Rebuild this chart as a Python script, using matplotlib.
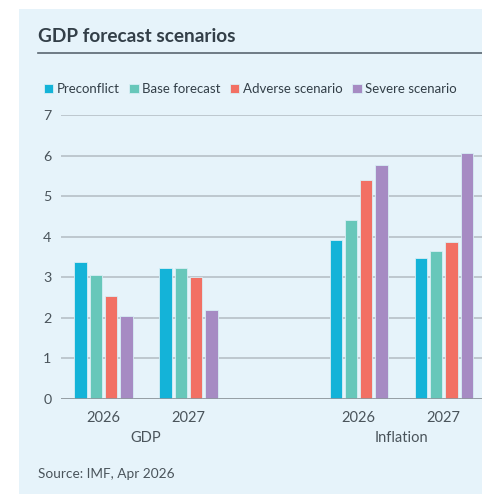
import numpy as np
import matplotlib.pyplot as plt
from matplotlib.patches import Rectangle

plt.rcParams['font.family'] = ['Lato', 'DejaVu Sans']

# Data
series = ['Preconflict', 'Base forecast', 'Adverse scenario', 'Severe scenario']
years = ['2026', '2027', '2026', '2027']
groups = ['GDP', 'Inflation']
preconflict = [3.37, 3.23, 3.91, 3.47]
base_forecast = [3.05, 3.23, 4.41, 3.66]
adverse = [2.54, 3.01, 5.40, 3.87]
severe = [2.04, 2.18, 5.78, 6.07]
colors = ['#14b3d8', '#67c7ba', '#f27064', '#a68bc3']

values = [preconflict, base_forecast, adverse, severe]
# GDP in slots 0,1 and inflation in slots 3,4
pos = np.array([0, 1, 3, 4])

W, H = 482, 494
fig = plt.figure(figsize=(W / 100, H / 100), dpi=100, facecolor='white')

# light blue panel behind everything
fig.patches.append(Rectangle((19 / W, 0), 1 - 19 / W, 1 - 9 / H,
                             transform=fig.transFigure, facecolor='#e6f3fa',
                             edgecolor='none', zorder=-5))

txt = '#333f48'
fig.text(38 / W, 1 - 37 / H, 'GDP forecast scenarios', fontsize=13.7,
         fontweight='bold', color=txt, va='center', ha='left')
fig.add_artist(plt.Line2D([38 / W, 1], [1 - 53.5 / H, 1 - 53.5 / H],
                          transform=fig.transFigure, color='#5a6670', lw=1.2))

ax = fig.add_axes([61 / W, 1 - 398.5 / H, 1 - 61 / W, (398.5 - 115.5) / H])
ax.set_facecolor('none')

bw = 0.145
step = 0.18
for i, (name, vals, c) in enumerate(zip(series, values, colors)):
    ax.bar(pos + (i - 1.5) * step, vals, width=bw, color=c, label=name,
           edgecolor='#d8eef5', linewidth=0.6, zorder=3)

ax.set_ylim(0, 7)
ax.set_xlim(-0.5, 4.45)
ax.set_yticks(range(8))
ax.yaxis.grid(True, color='#b3bcc2', lw=1.1, zorder=1)
ax.set_axisbelow(True)
for s in ax.spines.values():
    s.set_visible(False)
ax.axhline(0, color='#8e979d', lw=1.2, zorder=4)
ax.tick_params(axis='y', length=0, pad=7, labelsize=10.3, labelcolor='#4a545b')
ax.tick_params(axis='x', length=0, pad=9, labelsize=10.5, labelcolor='#4a545b')
ax.set_xticks(pos)
ax.set_xticklabels(years)
for ydx, g in enumerate(groups):
    ax.text(pos[2 * ydx:2 * ydx + 2].mean(), -0.97, g, ha='center', va='center',
            fontsize=10.5, color='#4a545b')

leg = fig.legend(loc='center left', bbox_to_anchor=(32 / W, 1 - 89 / H), ncol=4,
                 frameon=False, handlelength=0.7, handleheight=0.7,
                 handletextpad=0.25, columnspacing=0.75, fontsize=9.5)
for t in leg.get_texts():
    t.set_color(txt)

fig.text(38 / W, 1 - 474 / H, 'Source: IMF, Apr 2026', fontsize=9.8,
         color='#4a545b', va='center', ha='left')

fig.savefig('out.png', dpi=100, facecolor='white')
